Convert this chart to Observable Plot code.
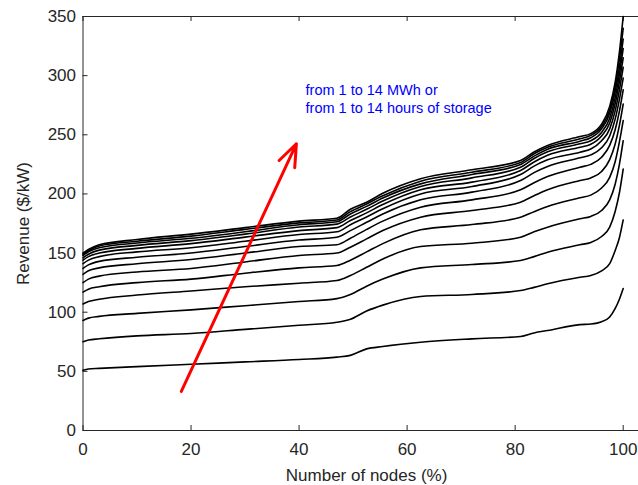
<!DOCTYPE html>
<html><head><meta charset="utf-8">
<script src="https://cdn.jsdelivr.net/npm/d3@7"></script>
<script src="https://cdn.jsdelivr.net/npm/@observablehq/plot@0.6"></script>
<style>
body{margin:0;background:#fff;}
#chart{width:638px;height:485px;overflow:hidden;}
</style></head><body><div id="chart"></div>
<script>
// x positions (% of nodes) at which each curve was read
const nodesPct = [0, 1, 3, 10, 20, 30, 40, 47, 49.5, 52.5, 55.5, 62.5, 72, 81, 83.5, 86, 92, 94, 96, 97.5, 98.5, 99.3, 100];
// revenue ($/kW) for 1..14 MWh of storage
const rev01 = [51, 52, 52.5, 54, 56, 58, 60, 62, 63.5, 69, 71, 74.6, 77.5, 79.5, 82.5, 84.5, 89.5, 90, 92, 96, 103, 111, 120];
const rev02 = [75, 76.5, 77.5, 80, 82, 85.5, 89, 91.5, 94, 101, 106, 113.3, 115, 118.3, 121, 124, 129.5, 131, 135, 141, 152, 163, 178];
const rev03 = [93, 95, 96.5, 99, 102, 105.5, 109, 111.5, 115, 122, 128, 137.5, 140.3, 143.7, 147, 150.7, 157, 159, 164, 172, 185, 201, 221];
const rev04 = [107, 109, 111, 114.5, 118, 121.5, 124.5, 126.8, 131, 138, 145, 155.5, 158.3, 163.4, 168, 171.9, 179, 181, 186, 195, 208, 225, 245];
const rev05 = [117, 119.5, 121.5, 125, 128, 133, 137.5, 139.5, 144, 151, 158, 169.7, 174.1, 180.3, 185, 189.4, 196.7, 199, 205, 214, 227, 244, 262];
const rev06 = [125, 128, 130.5, 134, 137, 142.5, 148, 150, 155, 162, 169, 180.3, 186, 193, 198.5, 203.5, 211.3, 213.5, 219, 229, 242, 258, 276];
const rev07 = [132, 135, 137.5, 141, 144.5, 150, 155.5, 157, 162.5, 170, 177, 188.8, 195, 203.5, 209.5, 214.7, 222.6, 225, 231, 241, 254, 270, 288];
const rev08 = [137, 140, 143, 146.5, 150, 155.5, 161, 163.4, 169, 176, 183, 195, 201.5, 211.3, 218, 223.2, 230.5, 233, 239, 249, 263, 280, 298];
const rev09 = [141, 144, 147, 151, 154.5, 160, 165.7, 168, 174, 180.5, 187.5, 200, 206.3, 216.4, 223.5, 228.8, 235.3, 238, 245, 255, 270, 288, 307];
const rev10 = [144, 147, 150, 154, 158, 163.5, 169, 171.5, 177.5, 184, 191, 203.5, 210, 219.8, 227, 232.7, 239.5, 242, 249, 260, 276, 295, 315];
const rev11 = [146, 149, 152.5, 156.5, 160.5, 166, 172, 174.5, 180.5, 187, 194, 206.3, 213.6, 222.6, 230, 235.6, 242.4, 245, 252, 264, 281, 301, 323];
const rev12 = [148, 151, 154.5, 158.5, 162.5, 168, 174, 176.5, 183, 189.5, 196.5, 208.5, 216.4, 224.9, 232, 237.8, 244.6, 247.5, 255, 268, 286, 307, 331];
const rev13 = [149, 152, 156, 160, 164.3, 170, 175.5, 178, 185, 191.5, 198.5, 210.8, 218.4, 226.6, 234, 239.5, 246.6, 249.5, 257, 271, 290, 314, 340];
const rev14 = [150, 153, 157, 161.5, 166, 171.5, 177, 179.5, 187, 193, 200.5, 212.8, 220.4, 228.3, 235.5, 241, 248.5, 251, 259, 274, 294, 320, 350];
const storageMWh = [1, 2, 3, 4, 5, 6, 7, 8, 9, 10, 11, 12, 13, 14];
const xTicks = [0, 20, 40, 60, 80, 100];
const yTicks = [0, 50, 100, 150, 200, 250, 300, 350];
const arrowFrom = [18.2, 33];
const arrowTo = [39.5, 242.4];
const noteLines = ["from 1 to 14 MWh or", "from 1 to 14 hours of storage"];
const noteX = [41.2, 41.2];
const noteY = [287.4, 272.2];

const series = [rev01, rev02, rev03, rev04, rev05, rev06, rev07, rev08, rev09, rev10, rev11, rev12, rev13, rev14];
const data = series.flatMap((s, i) => s.map((v, j) => ({mwh: storageMWh[i], x: nodesPct[j], y: v})));

const W = 638, H = 485, mL = 82.5, mR = -11.7, mT = 16, mB = 55;
const plotW = W - mL - mR, plotH = H - mT - mB;
const axisColor = "#262626";

const chart = Plot.plot({
  width: W, height: H,
  marginLeft: mL, marginRight: mR, marginTop: mT, marginBottom: mB,
  style: {fontFamily: "'Liberation Sans', Arial, sans-serif", fontSize: "17px", color: axisColor, background: "white", overflow: "hidden"},
  x: {domain: [0, 105]},
  y: {domain: [0, 350]},
  marks: [
    Plot.frame({stroke: axisColor, strokeWidth: 1}),
    Plot.ruleX(xTicks, {x: d => d, insetTop: plotH - 5, stroke: axisColor}),
    Plot.ruleX(xTicks, {x: d => d, insetBottom: plotH - 5, stroke: axisColor}),
    Plot.ruleY(yTicks, {y: d => d, insetRight: plotW - 5, stroke: axisColor}),
    Plot.axisX({ticks: xTicks, tickSize: 0, tickPadding: 12, tickFormat: d => String(d), label: "Number of nodes (%)", labelAnchor: "center", labelArrow: "none", labelOffset: 50, fontSize: 17}),
    Plot.axisY({ticks: yTicks, tickSize: 0, tickPadding: 7, tickFormat: d => String(d), label: "Revenue ($/kW)", labelAnchor: "center", labelArrow: "none", labelOffset: 66, fontSize: 17}),
    Plot.line(data, {x: "x", y: "y", z: "mwh", stroke: "black", strokeWidth: 1.6, curve: "monotone-x"}),
    Plot.arrow([0], {x1: () => arrowFrom[0], y1: () => arrowFrom[1], x2: () => arrowTo[0], y2: () => arrowTo[1], stroke: "#ff0000", strokeWidth: 3, headLength: 12, headAngle: 42}),
    Plot.text(noteLines, {x: (d, i) => noteX[i], y: (d, i) => noteY[i], text: d => d, textAnchor: "start", fill: "#0000ff", fontSize: 14.5})
  ]
});
document.getElementById("chart").appendChild(chart);
</script>
</body></html>
